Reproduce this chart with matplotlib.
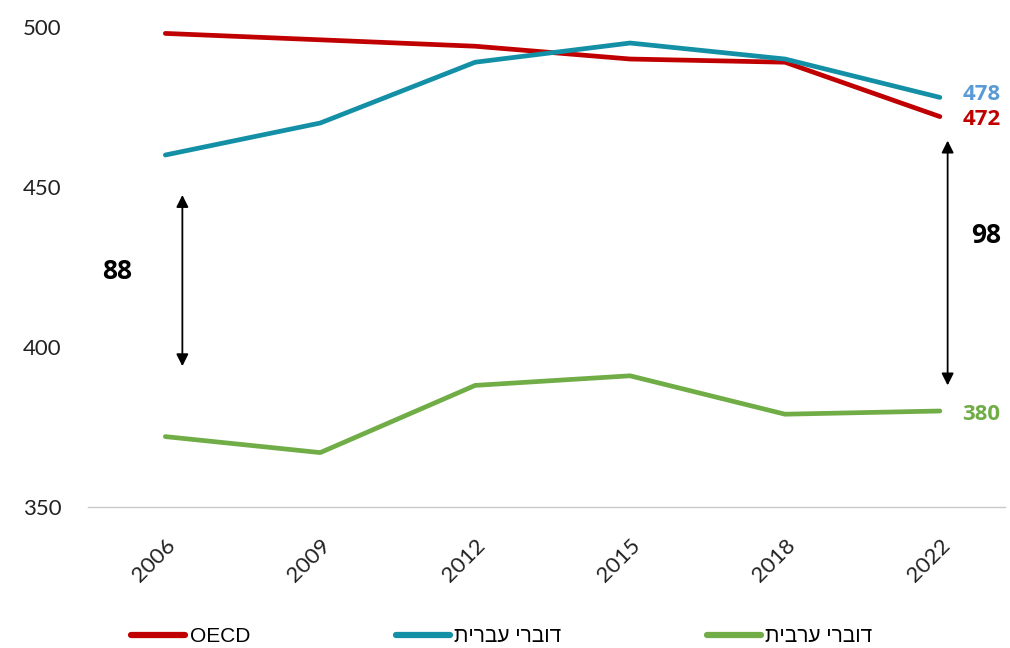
import matplotlib
matplotlib.use("Agg")
import matplotlib.pyplot as plt

years = ["2006", "2009", "2012", "2015", "2018", "2022"]
oecd = [498, 496, 494, 490, 489, 472]
hebrew = [460, 470, 489, 495, 490, 478]
arabic = [372, 367, 388, 391, 379, 380]

names = ["OECD", "דוברי עברית", "דוברי ערבית"]
colors = ["#C00000", "#138FA6", "#70AD47"]
end_colors = ["#C00000", "#5B9BD5", "#70AD47"]

FONT = ["Lato", "DejaVu Sans"]
BOLD = ["Open Sans", "DejaVu Sans"]
LEG = ["Liberation Sans", "DejaVu Sans"]
plt.rcParams["font.family"] = FONT


def vis(s):
    # matplotlib has no bidi support: give Hebrew in visual order
    if any("\u0590" <= ch <= "\u05ff" for ch in s):
        return s[::-1]
    return s


fig = plt.figure(figsize=(10.1, 6.48), dpi=100)
ax = fig.add_axes([0.087, 0.2176, 0.908, 0.7407])

x = list(range(len(years)))
for vals, name, col in zip([oecd, hebrew, arabic], names, colors):
    ax.plot(x, vals, color=col, lw=3.4, solid_capstyle="round",
            solid_joinstyle="round", label=vis(name))

ax.set_xlim(-0.5, 5.42)
ax.set_ylim(350, 500)
ax.set_yticks([350, 400, 450, 500])
ax.set_xticks(x)
ax.set_xticklabels(years, rotation=45, ha="right", rotation_mode="anchor")
ax.tick_params(axis="both", length=0, labelsize=16, colors="#222222")
ax.tick_params(axis="x", pad=20)
ax.tick_params(axis="y", pad=19)
for s in ["top", "right", "left"]:
    ax.spines[s].set_visible(False)
ax.spines["bottom"].set_color("#c8c8c8")
ax.spines["bottom"].set_linewidth(1.0)

# end-point labels (478 nudged up, 472 nudged down so they don't collide)
last = len(years) - 1
nudge = [1.0, -1.0, -1.0]
for vals, col, dy in zip([hebrew, oecd, arabic],
                         [end_colors[1], end_colors[0], end_colors[2]], nudge):
    ax.text(last + 0.145, vals[-1] + dy, str(vals[-1]), color=col, fontsize=16,
            fontweight="bold", family=BOLD, ha="left", va="center")

# gap arrows
gap_start = hebrew[0] - arabic[0]
gap_end = hebrew[-1] - arabic[-1]
ax.annotate("", xy=(0.11, 394), xytext=(0.11, 447.5),
            arrowprops=dict(arrowstyle="<|-|>", color="black", lw=1.3,
                            mutation_scale=18, shrinkA=0, shrinkB=0))
ax.text(-0.31, 423.5, str(gap_start), fontsize=19, fontweight="bold",
        family=BOLD, ha="center", va="center")
ax.annotate("", xy=(5.05, 388), xytext=(5.05, 464.5),
            arrowprops=dict(arrowstyle="<|-|>", color="black", lw=1.3,
                            mutation_scale=18, shrinkA=0, shrinkB=0))
ax.text(5.30, 435, str(gap_end), fontsize=19, fontweight="bold",
        family=BOLD, ha="center", va="center")

leg = fig.legend(loc="lower center", bbox_to_anchor=(0.497, -0.026), ncol=3,
                 frameon=False, prop={"family": LEG, "size": 15},
                 handlelength=2.6, handletextpad=0.2, columnspacing=7.0)
for h in leg.get_lines():
    h.set_linewidth(4.5)

fig.savefig("out.png", dpi=100, facecolor="white")
